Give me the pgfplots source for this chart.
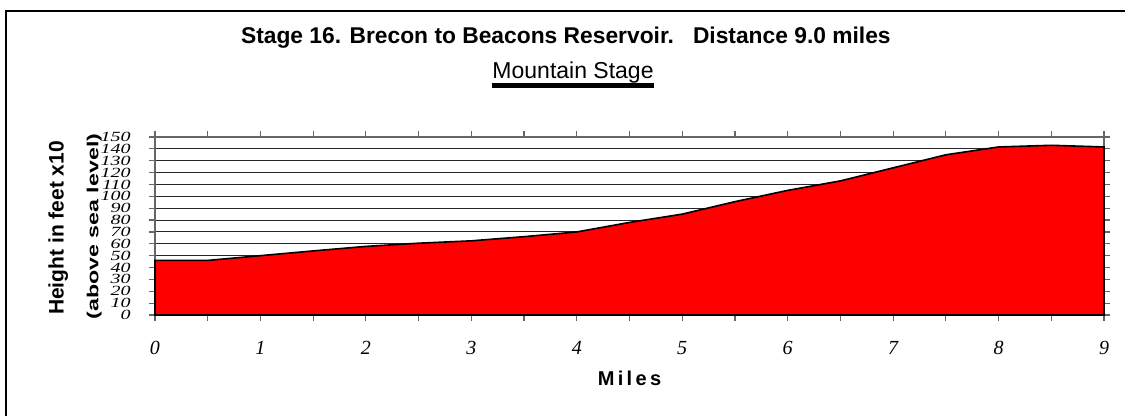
\documentclass[border=0pt]{standalone}
\usepackage{pgfplots}
\pgfplotsset{compat=1.18}
\usepackage{graphicx}
\usepackage{fontspec}
\setmainfont{Liberation Serif}
\newfontfamily\arial{Liberation Sans}
\begin{document}
\begin{tikzpicture}
\path[use as bounding box] (-77.5pt,-50.5pt) rectangle (485pt,157.5pt);
\draw[line width=0.8pt] (-74.5pt,-50.5pt) -- (-74.5pt,152pt) -- (485pt,152pt);
\begin{axis}[
  scale only axis,
  width=474.5pt, height=89pt,
  at={(0,0)}, anchor=south west,
  xmin=0, xmax=9, ymin=0, ymax=150,
  xtick={0,...,9},
  minor xtick={0.5,1.5,...,8.5},
  ytick={0,10,...,150},
  ymajorgrids,
  major grid style={black!85, line width=0.45pt},
  axis line style={gray!80!black, line width=0.6pt},
  tick style={gray!80!black, line width=0.6pt},
  tick align=outside,
  major tick length=3pt, minor tick length=3pt,
  /pgf/number format/assume math mode=true,
  xticklabel style={font=\fontsize{10}{10}\selectfont\itshape, anchor=center, yshift=-13.5pt, inner sep=0pt},
  yticklabel style={font=\fontsize{10}{10}\selectfont\itshape, anchor=east, xshift=-9pt, inner sep=0pt},
  yticklabel={\scalebox{1}[0.7]{\pgfmathprintnumber{\tick}}},
  clip=false,
]
\addplot[fill=red, draw=black, line width=0.8pt] coordinates {
(0,46) (0.5,46) (1,50) (1.5,54) (2,57.8) (2.5,60.5) (3,62.5) (3.5,66)
(4,70) (4.5,78) (5,85) (5.5,95.5) (6,105) (6.5,113) (7,124) (7.5,135)
(8,141.6) (8.5,143) (9,141.6)
} \closedcycle;
\node[font=\arial\bfseries\fontsize{11.4}{13}\selectfont, anchor=base, inner sep=0pt] at (rel axis cs:0.433,1.528) {Stage 16. Brecon to Beacons Reservoir.\ \ \ Distance 9.0 miles};
\node[font=\arial\fontsize{11.5}{13}\selectfont, anchor=base, inner sep=0pt] (sub) at (rel axis cs:0.4405,1.331) {Mountain Stage};
\draw[line width=2.5pt] ([yshift=-3.5pt]sub.base west) -- ([yshift=-3.5pt]sub.base east);
\node[font=\arial\bfseries\fontsize{10}{12}\selectfont, anchor=center] at (rel axis cs:0.5,-0.354) {M\,i\,l\,e\,s};
\node[font=\arial\bfseries\fontsize{10.5}{12}\selectfont, rotate=90, anchor=center] at (rel axis cs:-0.102,0.489) {Height in feet x10};
\node[font=\arial\bfseries\fontsize{8}{9}\selectfont, rotate=90, anchor=center] at (rel axis cs:-0.064,0.497) {\scalebox{1.45}[1]{(above sea level)}};
\end{axis}
\end{tikzpicture}
\end{document}
